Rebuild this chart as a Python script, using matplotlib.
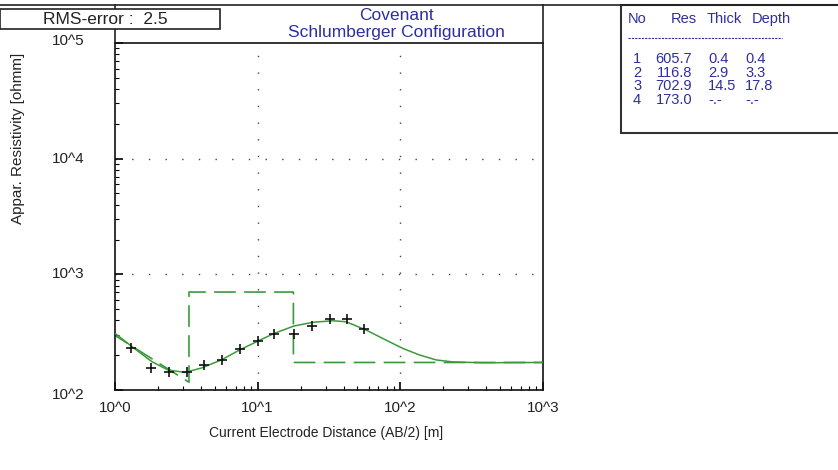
import matplotlib
matplotlib.use("Agg")
import matplotlib.pyplot as plt
from matplotlib.lines import Line2D
from matplotlib.patches import Rectangle
from matplotlib.ticker import FixedLocator, LogLocator, NullFormatter

# --- DATOS ---
ab2_obs = [1.3, 1.8, 2.4, 3.2, 4.2, 5.6, 7.5, 10, 13, 18, 24, 32, 42, 56]
rho_obs = [232, 154, 144, 143, 165, 180, 226, 265, 305, 305, 360, 412, 412, 337]

ab2_fit = [1.0, 1.31, 1.81, 2.35, 3.09, 4.04, 5.57, 7.48, 10.05, 13.1, 17.9,
           24.4, 33.6, 41.7, 57.5, 79.4, 104, 136, 178, 232, 374, 1000]
rho_fit = [309, 238, 176, 149, 142, 155, 182, 222, 265, 309, 357,
           385, 397, 389, 330, 270, 229, 201, 182, 175, 172, 173]

model_x = [0.4, 3.3, 3.3, 17.8, 17.8, 1000]
model_rho = [605.7, 116.8, 702.9, 702.9, 173.0, 173.0]

layer_no = ["1", "2", "3", "4"]
layer_res = ["605.7", "116.8", "702.9", "173.0"]
layer_thick = ["0.4", "2.9", "14.5", "-.-"]
layer_depth = ["0.4", "3.3", "17.8", "-.-"]

x_ticks = [1, 10, 100, 1000]
x_labels = ["10^0", "10^1", "10^2", "10^3"]
y_ticks = [1e2, 1e3, 1e4, 1e5]
y_labels = ["10^2", "10^3", "10^4", "10^5"]

RMS_TEXT = "RMS-error :  2.5"
TITLE_1 = "Covenant"
TITLE_2 = "Schlumberger Configuration"

# --- ESTILO ---
plt.rcParams['font.family'] = ['Liberation Sans', 'DejaVu Sans']
W, H = 838, 470
GREEN = '#3a9a3a'
BLUE = '#2e2e9e'
DARK = '#222222'


def fx(px):
    return px / W


def fy(py):
    return 1 - py / H


fig = plt.figure(figsize=(W / 100, H / 100), dpi=100)
fig.patch.set_facecolor('white')

ax = fig.add_axes([fx(115), fy(390), fx(543) - fx(115), fy(43) - fy(390)])
ax.set_xscale('log')
ax.set_yscale('log')
ax.set_xlim(1, 1000)
ax.set_ylim(1e2, 1e5)

# rejilla punteada
for xv in x_ticks[1:-1]:
    ax.axvline(xv, color='#444444', lw=1, ls=(0, (1, 11)), zorder=1)
for yv in y_ticks[1:-1]:
    ax.axhline(yv, color='#444444', lw=1, ls=(0, (1, 11)), zorder=1)

# modelo de capas (escalones)
ax.plot(model_x, model_rho, color=GREEN, lw=1.2, ls=(0, (13, 5)), zorder=2)
# curva calculada
ax.plot(ab2_fit, rho_fit, color=GREEN, lw=1.1, zorder=3)
# datos medidos
ax.plot(ab2_obs, rho_obs, ls='none', marker='+', ms=7.5, mew=1.2, color='#111111', zorder=4)

# ticks
ax.xaxis.set_major_locator(FixedLocator(x_ticks))
ax.yaxis.set_major_locator(FixedLocator(y_ticks))
ax.xaxis.set_minor_locator(LogLocator(base=10, subs=range(2, 10)))
ax.yaxis.set_minor_locator(LogLocator(base=10, subs=range(2, 10)))
ax.xaxis.set_minor_formatter(NullFormatter())
ax.yaxis.set_minor_formatter(NullFormatter())
ax.tick_params(which='major', direction='in', length=6, width=1.2,
               top=False, right=False, labelbottom=False, labelleft=False)
ax.tick_params(which='minor', direction='in', length=3, width=0.8,
               top=False, right=False)
for sp in ax.spines.values():
    sp.set_linewidth(1.2)
    sp.set_color('#111111')

# etiquetas de los ejes a mano (formato 10^n)
for xv, lab in zip(x_ticks, x_labels):
    ax.text(xv, -0.052, lab, transform=ax.get_xaxis_transform(),
            ha='center', va='center', fontsize=11, color=DARK)
y_nudge = [0.9, 1.0, 1.0, 1.04]  # los rotulos extremos del original se salen un poco
for yv, lab, k in zip(y_ticks, y_labels, y_nudge):
    ax.text(-0.11, yv * k, lab, transform=ax.get_yaxis_transform(),
            ha='center', va='center', fontsize=11, color=DARK)

fig.text(fx(326), fy(433), "Current Electrode Distance (AB/2) [m]",
         ha='center', va='center', fontsize=10, color=DARK)
fig.text(fx(18), fy(138), "Appar. Resistivity [ohmm]", rotation=90,
         ha='center', va='center', fontsize=11, color=DARK)

# marco superior
fig.add_artist(Line2D([0, 1], [fy(5), fy(5)], color=DARK, lw=1.2))
fig.add_artist(Line2D([fx(115), fx(115)], [fy(5), fy(43)], color=DARK, lw=1.2))
fig.add_artist(Line2D([fx(543), fx(543)], [fy(5), fy(43)], color=DARK, lw=1.2))

# titulo
fig.text(fx(396), fy(15), TITLE_1, ha='center', va='center', fontsize=12.5, color=BLUE)
fig.text(fx(396), fy(33), TITLE_2, ha='center', va='center', fontsize=12.5, color=BLUE)

# caja RMS
fig.add_artist(Rectangle((fx(0), fy(29)), fx(220), fy(9) - fy(29),
                         facecolor='white', edgecolor=DARK, lw=1.2, zorder=5))
fig.text(fx(105), fy(19), RMS_TEXT, ha='center', va='center',
         fontsize=12.5, color=DARK, zorder=6)

# tabla de capas
TFS = 10.5
fig.add_artist(Rectangle((fx(621), fy(133)), fx(230), fy(5) - fy(133),
                         facecolor='white', edgecolor='#333333', lw=1.5))
fig.text(fx(628), fy(19), "No", ha='left', va='center', fontsize=TFS, color=BLUE)
fig.text(fx(697), fy(19), "Res", ha='right', va='center', fontsize=TFS, color=BLUE)
fig.text(fx(707), fy(19), "Thick", ha='left', va='center', fontsize=TFS, color=BLUE)
fig.text(fx(752), fy(19), "Depth", ha='left', va='center', fontsize=TFS, color=BLUE)
fig.add_artist(Line2D([fx(628), fx(782)], [fy(38), fy(38)], color=BLUE,
                      lw=0.8, ls=(0, (2, 1))))
row_y = [59, 73, 86, 100]
for i in range(len(layer_no)):
    y = fy(row_y[i])
    fig.text(fx(633), y, layer_no[i], ha='left', va='center', fontsize=TFS, color=BLUE)
    fig.text(fx(692), y, layer_res[i], ha='right', va='center', fontsize=TFS, color=BLUE)
    fig.text(fx(708), y, layer_thick[i], ha='left', va='center', fontsize=TFS, color=BLUE)
    fig.text(fx(745), y, layer_depth[i], ha='left', va='center', fontsize=TFS, color=BLUE)

fig.savefig("out.png", dpi=100, facecolor=fig.get_facecolor())
